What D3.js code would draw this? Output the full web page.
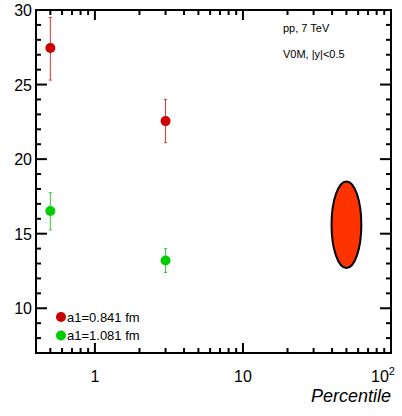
<!DOCTYPE html>
<html lang="en">
<head>
    <meta charset="UTF-8">
    <title>Radius vs percentile</title>
    <script src="https://d3js.org/d3.v7.min.js"></script>
    <style>
        body { margin: 0; background: #fff; font-family: "Liberation Sans", Arial, sans-serif; }
        svg text { font-family: "Liberation Sans", Arial, sans-serif; }
    </style>
</head>
<body>
    <div id="chart"></div>
    <script>
        // data
        const percentile = [0.5, 3.0];
        const redValues = [27.45, 22.55];
        const redErrLow = [25.3, 21.1];
        const redErrHigh = [29.5, 24.0];
        const greenValues = [16.52, 13.2];
        const greenErrLow = [15.25, 12.4];
        const greenErrHigh = [17.75, 14.0];
        const legendLabels = ["a1=0.841 fm", "a1=1.081 fm"];
        const yTicks = [10, 15, 20, 25, 30];
        const xTicks = [1, 10, 100];
        // ellipse: center x, center y, x extent, y half-size
        const ellipseX = [39, 50, 62];
        const ellipseY = [15.6, 2.9];

        const width = 402, height = 416;
        const margin = { top: 10, right: 11, bottom: 63, left: 36 };

        const svg = d3.select("#chart").append("svg")
            .attr("width", width)
            .attr("height", height);

        const x = d3.scaleLog()
            .domain([0.4, 100])
            .range([margin.left, width - margin.right]);

        const y = d3.scaleLinear()
            .domain([7, 30])
            .range([height - margin.bottom, margin.top]);

        const x0 = margin.left, x1 = width - margin.right;
        const y0 = height - margin.bottom, y1 = margin.top;

        // ticks on all four sides, pointing inward
        const minorX = [];
        [0.1, 1, 10].forEach(d => { for (let k = 1; k <= 9; k++) minorX.push(d * k); });
        const xMinor = minorX.filter(v => v >= 0.4 && v <= 100 && !xTicks.includes(v));
        const yMinor = d3.range(8, 30).filter(v => !yTicks.includes(v));

        const ticks = svg.append("g").attr("stroke", "#000").attr("stroke-width", 2);
        xTicks.forEach(v => {
            ticks.append("line").attr("x1", x(v)).attr("x2", x(v)).attr("y1", y0).attr("y2", y0 - 10);
            ticks.append("line").attr("x1", x(v)).attr("x2", x(v)).attr("y1", y1).attr("y2", y1 + 10);
        });
        xMinor.forEach(v => {
            ticks.append("line").attr("x1", x(v)).attr("x2", x(v)).attr("y1", y0).attr("y2", y0 - 5);
            ticks.append("line").attr("x1", x(v)).attr("x2", x(v)).attr("y1", y1).attr("y2", y1 + 5);
        });
        yTicks.forEach(v => {
            ticks.append("line").attr("x1", x0).attr("x2", x0 + 11).attr("y1", y(v)).attr("y2", y(v));
            ticks.append("line").attr("x1", x1).attr("x2", x1 - 11).attr("y1", y(v)).attr("y2", y(v));
        });
        yMinor.forEach(v => {
            ticks.append("line").attr("x1", x0).attr("x2", x0 + 5).attr("y1", y(v)).attr("y2", y(v));
            ticks.append("line").attr("x1", x1).attr("x2", x1 - 5).attr("y1", y(v)).attr("y2", y(v));
        });

        // frame
        svg.append("rect")
            .attr("x", x0).attr("y", y1)
            .attr("width", x1 - x0).attr("height", y0 - y1)
            .attr("fill", "none").attr("stroke", "#000").attr("stroke-width", 2);

        // tick labels
        svg.append("g").selectAll("text")
            .data(yTicks)
            .enter().append("text")
            .attr("x", x0 - 4)
            .attr("y", d => y(d) + 6)
            .attr("text-anchor", "end")
            .style("font-size", "16px")
            .text(d => d);

        const xl = svg.append("g");
        xl.append("text").attr("x", x(1)).attr("y", 382).attr("text-anchor", "middle")
            .style("font-size", "16px").text("1");
        xl.append("text").attr("x", x(10)).attr("y", 382).attr("text-anchor", "middle")
            .style("font-size", "16px").text("10");
        const hundred = xl.append("text").attr("x", x(100) - 8).attr("y", 382).attr("text-anchor", "middle")
            .style("font-size", "16px");
        hundred.append("tspan").text("10");
        hundred.append("tspan").attr("dy", -7).style("font-size", "11px").text("2");

        svg.append("text")
            .attr("x", x1)
            .attr("y", 402)
            .attr("text-anchor", "end")
            .style("font-size", "18px")
            .style("font-style", "italic")
            .text("Percentile");

        // ellipse
        svg.append("ellipse")
            .attr("cx", x(ellipseX[1]))
            .attr("cy", y(ellipseY[0]))
            .attr("rx", (x(ellipseX[2]) - x(ellipseX[0])) / 2)
            .attr("ry", y(ellipseY[0] - ellipseY[1]) - y(ellipseY[0]))
            .attr("fill", "#ff3300")
            .attr("stroke", "#000")
            .attr("stroke-width", 2);

        function drawSeries(vals, lo, hi, color, barColor) {
            const g = svg.append("g");
            percentile.forEach((p, i) => {
                const cx = x(p);
                g.append("line").attr("x1", cx).attr("x2", cx)
                    .attr("y1", y(lo[i])).attr("y2", y(hi[i]))
                    .attr("stroke", barColor).attr("stroke-width", 1);
                [lo[i], hi[i]].forEach(v => {
                    g.append("line").attr("x1", cx - 1.5).attr("x2", cx + 1.5)
                        .attr("y1", y(v)).attr("y2", y(v))
                        .attr("stroke", barColor).attr("stroke-width", 1);
                });
                g.append("circle").attr("cx", cx).attr("cy", y(vals[i]))
                    .attr("r", 5).attr("fill", color);
            });
        }
        drawSeries(redValues, redErrLow, redErrHigh, "#cc0000", "#dd3333");
        drawSeries(greenValues, greenErrLow, greenErrHigh, "#00cc00", "#33cc33");

        // annotations
        svg.append("text").attr("x", 283).attr("y", 32).style("font-size", "11px").text("pp, 7 TeV");
        svg.append("text").attr("x", 283).attr("y", 58).style("font-size", "11px").text("V0M, |y|<0.5");

        // legend
        const legendColors = ["#cc0000", "#00cc00"];
        const legend = svg.append("g");
        legendLabels.forEach((lab, i) => {
            const ly = 317 + i * 18.5;
            legend.append("circle").attr("cx", 61).attr("cy", ly).attr("r", 5).attr("fill", legendColors[i]);
            legend.append("text").attr("x", 67).attr("y", ly + 4.5).style("font-size", "13px").text(lab);
        });
    </script>
</body>
</html>
